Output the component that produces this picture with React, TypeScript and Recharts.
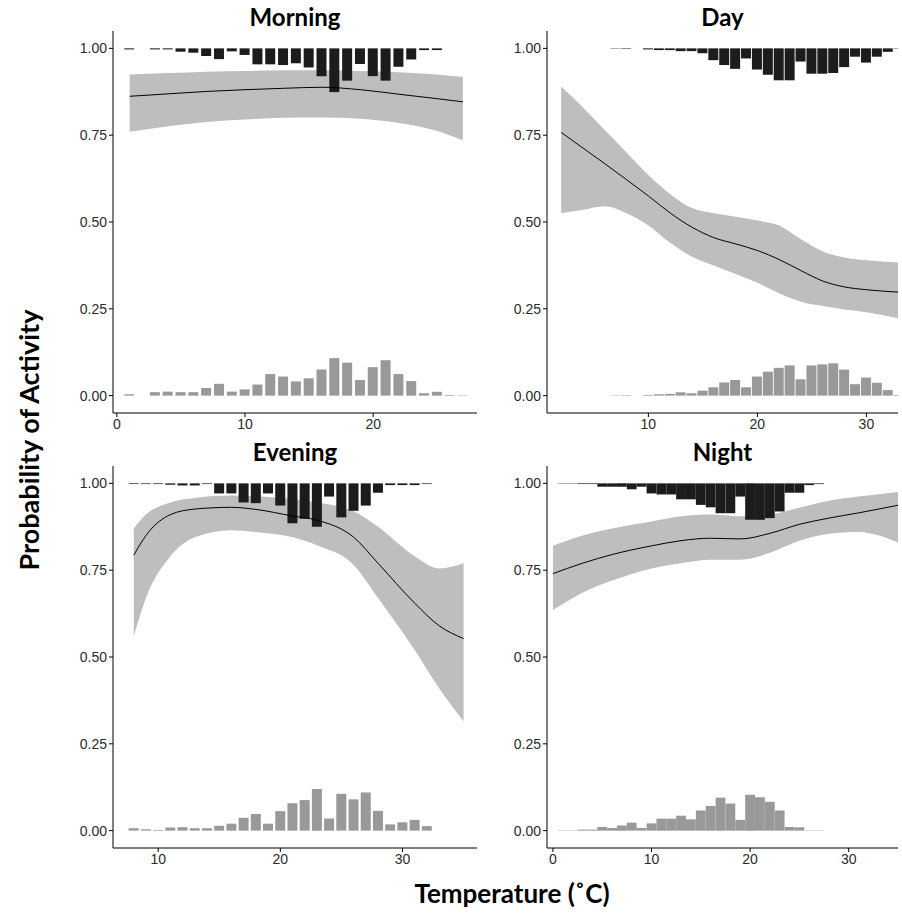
import { ComposedChart, Area, Line, Bar, XAxis, YAxis } from "recharts"

// probability axis ticks
const yTicks = [0, 0.25, 0.5, 0.75, 1]

// Morning
const morningBins = [1, 2, 3, 4, 5, 6, 7, 8, 9, 10, 11, 12, 13, 14, 15, 16, 17, 18, 19, 20, 21, 22, 23, 24, 25, 26, 27]
const morningActive = [0.003, 0, 0.003, 0.003, 0.0096, 0.0125, 0.022, 0.031, 0.0086, 0.019, 0.046, 0.046, 0.048, 0.043, 0.055, 0.08, 0.126, 0.093, 0.045, 0.08, 0.093, 0.053, 0.032, 0.005, 0.005, 0, 0]
const morningInactive = [0.004, 0, 0.01, 0.0115, 0.01, 0.01, 0.022, 0.034, 0.0115, 0.018, 0.032, 0.062, 0.055, 0.041, 0.05, 0.075, 0.108, 0.095, 0.045, 0.082, 0.102, 0.062, 0.042, 0.007, 0.011, 0.002, 0.001]
const morningX = [1, 4, 7, 10, 13, 16, 19, 22, 25, 27]
const morningFit = [0.862, 0.869, 0.876, 0.881, 0.885, 0.888, 0.881, 0.868, 0.855, 0.846]
const morningLow = [0.76, 0.776, 0.788, 0.795, 0.8, 0.801, 0.797, 0.785, 0.762, 0.735]
const morningHigh = [0.925, 0.929, 0.933, 0.935, 0.937, 0.937, 0.935, 0.931, 0.925, 0.918]
const morningTicks = [0, 10, 20]

// Day
const dayBins = [7, 8, 9, 10, 11, 12, 13, 14, 15, 16, 17, 18, 19, 20, 21, 22, 23, 24, 25, 26, 27, 28, 29, 30, 31, 32, 33]
const dayActive = [0.001, 0.001, 0, 0.003, 0.005, 0.005, 0.008, 0.008, 0.014, 0.034, 0.048, 0.059, 0.029, 0.061, 0.076, 0.092, 0.092, 0.038, 0.073, 0.073, 0.071, 0.054, 0.024, 0.041, 0.024, 0.01, 0.001]
const dayInactive = [0.001, 0.001, 0, 0.002, 0.004, 0.005, 0.0096, 0.007, 0.0144, 0.024, 0.038, 0.045, 0.024, 0.055, 0.069, 0.08, 0.087, 0.047, 0.087, 0.09, 0.093, 0.075, 0.033, 0.052, 0.037, 0.016, 0.002]
const dayX = [2, 4, 6, 8, 10, 12, 14, 16, 18, 20, 22, 24, 26, 28, 30, 33]
const dayFit = [0.758, 0.713, 0.668, 0.622, 0.575, 0.526, 0.485, 0.455, 0.437, 0.418, 0.392, 0.36, 0.33, 0.313, 0.305, 0.298]
const dayLow = [0.525, 0.535, 0.545, 0.525, 0.49, 0.44, 0.4, 0.375, 0.35, 0.325, 0.295, 0.27, 0.258, 0.248, 0.24, 0.222]
const dayHigh = [0.89, 0.83, 0.765, 0.7, 0.635, 0.58, 0.54, 0.525, 0.515, 0.504, 0.49, 0.45, 0.415, 0.398, 0.39, 0.383]
const dayTicks = [10, 20, 30]

// Evening
const eveningBins = [8, 9, 10, 11, 12, 13, 14, 15, 16, 17, 18, 19, 20, 21, 22, 23, 24, 25, 26, 27, 28, 29, 30, 31, 32]
const eveningActive = [0.002, 0.002, 0.002, 0.004, 0.006, 0.006, 0.002, 0.029, 0.029, 0.055, 0.057, 0.029, 0.064, 0.115, 0.102, 0.125, 0.038, 0.098, 0.079, 0.064, 0.027, 0.005, 0.005, 0.005, 0.002]
const eveningInactive = [0.007, 0.004, 0.002, 0.009, 0.01, 0.007, 0.007, 0.014, 0.02, 0.037, 0.048, 0.02, 0.056, 0.079, 0.088, 0.12, 0.035, 0.106, 0.09, 0.11, 0.057, 0.018, 0.024, 0.031, 0.013]
const eveningX = [8, 9, 11, 13, 16, 18, 21, 23, 26, 28, 31, 33, 35]
const eveningFit = [0.793, 0.85, 0.91, 0.926, 0.931, 0.925, 0.906, 0.894, 0.845, 0.77, 0.655, 0.59, 0.553]
const eveningLow = [0.56, 0.67, 0.79, 0.845, 0.865, 0.86, 0.845, 0.822, 0.765, 0.67, 0.52, 0.41, 0.315]
const eveningHigh = [0.87, 0.91, 0.945, 0.958, 0.965, 0.963, 0.955, 0.945, 0.92, 0.875, 0.79, 0.755, 0.77]
const eveningTicks = [10, 20, 30]

// Night
const nightBins = [1, 2, 3, 4, 5, 6, 7, 8, 9, 10, 11, 12, 13, 14, 15, 16, 17, 18, 19, 20, 21, 22, 23, 24, 25, 26, 27]
const nightActive = [0.001, 0.001, 0.002, 0.002, 0.0096, 0.0096, 0.0096, 0.017, 0.0096, 0.029, 0.032, 0.032, 0.046, 0.046, 0.062, 0.069, 0.086, 0.086, 0.038, 0.105, 0.105, 0.1, 0.081, 0.027, 0.027, 0.005, 0.002]
const nightInactive = [0.001, 0.001, 0.003, 0.003, 0.0105, 0.0077, 0.015, 0.023, 0.0077, 0.021, 0.0345, 0.0345, 0.043, 0.0326, 0.058, 0.071, 0.095, 0.078, 0.031, 0.103, 0.096, 0.083, 0.058, 0.0105, 0.0096, 0.001, 0.001]
const nightX = [0, 3, 6, 10, 13, 16, 19, 22, 25, 28, 31, 35]
const nightFit = [0.74, 0.77, 0.795, 0.82, 0.835, 0.842, 0.84, 0.856, 0.882, 0.9, 0.915, 0.937]
const nightLow = [0.635, 0.685, 0.72, 0.755, 0.77, 0.78, 0.78, 0.8, 0.835, 0.855, 0.86, 0.83]
const nightHigh = [0.82, 0.85, 0.87, 0.89, 0.905, 0.91, 0.905, 0.91, 0.93, 0.95, 0.962, 0.975]
const nightTicks = [0, 10, 20, 30]

const TEXT_FONT = "Lato, 'Open Sans', sans-serif"
const TICK_FONT = "'Liberation Sans', Arial, sans-serif"

function buildRows(bins: number[], active: number[], inactive: number[], xs: number[], fit: number[], low: number[], high: number[]) {
  const map = new Map<number, any>()
  const get = (x: number) => {
    if (!map.has(x)) map.set(x, { x })
    return map.get(x)
  }
  bins.forEach((x, i) => {
    const r = get(x)
    r.active = active[i]
    r.inactive = inactive[i]
  })
  xs.forEach((x, i) => {
    const r = get(x)
    r.fit = fit[i]
    r.band = [low[i], high[i]]
  })
  return [...map.values()].sort((a, b) => a.x - b.x)
}

interface PanelProps {
  title: string
  left: number
  top: number
  width: number
  rows: any[]
  domain: [number, number]
  ticks: number[]
  barSize: number
}

const PLOT_H = 382
const Y_W = 50
const X_H = 30

function Panel({ title, left, top, width, rows, domain, ticks, barSize }: PanelProps) {
  const tickStyle = { fontSize: 14, fill: "#2b2b2b", fontFamily: TICK_FONT }
  return (
    <>
      <div
        style={{
          position: "absolute",
          left,
          width,
          top: top - 28,
          textAlign: "center",
          fontFamily: TEXT_FONT,
          fontWeight: 700,
          fontSize: 24,
          lineHeight: "28px",
          color: "#000",
        }}
      >
        {title}
      </div>
      <div style={{ position: "absolute", left: left - Y_W, top }}>
        <ComposedChart
          width={width + Y_W}
          height={PLOT_H + X_H}
          data={rows}
          margin={{ top: 0, right: 0, bottom: 0, left: 0 }}
        >
          <XAxis
            xAxisId="x"
            type="number"
            dataKey="x"
            domain={domain}
            ticks={ticks}
            allowDataOverflow
            height={X_H}
            tickSize={4}
            tickMargin={2}
            stroke="#000"
            tick={tickStyle}
          />
          <XAxis xAxisId="top" orientation="top" type="number" dataKey="x" domain={domain} allowDataOverflow hide />
          <YAxis
            type="number"
            domain={[-0.05, 1.05]}
            ticks={yTicks}
            tickFormatter={(v: number) => v.toFixed(2)}
            allowDataOverflow
            width={Y_W}
            tickSize={4}
            tickMargin={2}
            stroke="#000"
            tick={tickStyle}
          />
          <Area
            xAxisId="x"
            dataKey="band"
            type="monotone"
            fill="#bebebe"
            fillOpacity={1}
            stroke="none"
            connectNulls
            isAnimationActive={false}
          />
          <Line
            xAxisId="x"
            dataKey="fit"
            type="monotone"
            stroke="#000"
            strokeWidth={1}
            dot={false}
            connectNulls
            isAnimationActive={false}
          />
          <Bar
            xAxisId="x"
            dataKey={(r: any) => (r.inactive == null ? null : [0, r.inactive])}
            fill="#999999"
            barSize={barSize}
            isAnimationActive={false}
          />
          <Bar
            xAxisId="top"
            dataKey={(r: any) => (r.active == null ? null : [1 - r.active, 1])}
            fill="#1c1c1c"
            barSize={barSize}
            isAnimationActive={false}
          />
        </ComposedChart>
      </div>
    </>
  )
}

export default function App() {
  const morning = buildRows(morningBins, morningActive, morningInactive, morningX, morningFit, morningLow, morningHigh)
  const day = buildRows(dayBins, dayActive, dayInactive, dayX, dayFit, dayLow, dayHigh)
  const evening = buildRows(eveningBins, eveningActive, eveningInactive, eveningX, eveningFit, eveningLow, eveningHigh)
  const night = buildRows(nightBins, nightActive, nightInactive, nightX, nightFit, nightLow, nightHigh)

  return (
    <div style={{ position: "absolute", left: 0, top: 0, width: 902, height: 914, background: "#fff", overflow: "hidden" }}>
      <Panel title="Morning" left={113} top={31} width={364} rows={morning} domain={[-0.3, 28.1]} ticks={morningTicks} barSize={10} />
      <Panel title="Day" left={547} top={31} width={351} rows={day} domain={[0.7, 32.9]} ticks={dayTicks} barSize={10} />
      <Panel title="Evening" left={113} top={466} width={364} rows={evening} domain={[6.3, 36.1]} ticks={eveningTicks} barSize={10} />
      <Panel title="Night" left={547} top={466} width={351} rows={night} domain={[-0.6, 35.0]} ticks={nightTicks} barSize={9.8} />
      <div
        style={{
          position: "absolute",
          left: 28,
          top: 440,
          transform: "translate(-50%, -50%) rotate(-90deg)",
          whiteSpace: "nowrap",
          fontFamily: TEXT_FONT,
          fontWeight: 700,
          fontSize: 27,
          color: "#000",
        }}
      >
        Probability of Activity
      </div>
      <div
        style={{
          position: "absolute",
          left: 512,
          top: 893,
          transform: "translate(-50%, -50%)",
          whiteSpace: "nowrap",
          fontFamily: TEXT_FONT,
          fontWeight: 700,
          fontSize: 26,
          color: "#000",
        }}
      >
        Temperature (˚C)
      </div>
    </div>
  )
}
